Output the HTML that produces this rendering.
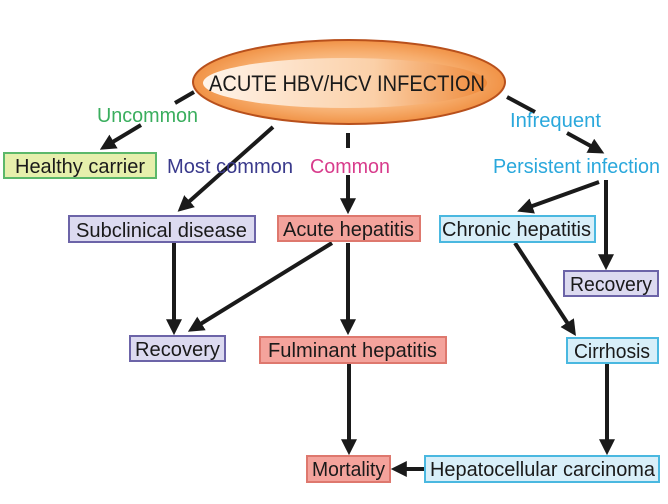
<!DOCTYPE html>
<html><head><meta charset="utf-8"><style>
html,body{margin:0;padding:0;background:#fff;width:668px;height:504px;overflow:hidden}
svg{display:block}
text{font-family:"Liberation Sans",sans-serif}
</style></head><body>
<svg width="668" height="504" viewBox="0 0 668 504" xmlns="http://www.w3.org/2000/svg">
<defs>
<marker id="a" markerWidth="4" markerHeight="4" refX="2.2" refY="2" orient="auto" markerUnits="strokeWidth">
<path d="M0,0 L4,2 L0,4 Z" fill="#1a1a1a"/></marker>
<radialGradient id="g" cx="0.5" cy="0.5" r="0.6">
<stop offset="0" stop-color="#fde2c8"/><stop offset="0.6" stop-color="#f7ae6e"/><stop offset="1" stop-color="#ec7f2a"/></radialGradient>
<linearGradient id="g2" x1="0" y1="0" x2="1" y2="0">
<stop offset="0" stop-color="#fff4ea"/><stop offset="0.6" stop-color="#fbd0a8"/><stop offset="1" stop-color="#ef8a3a"/></linearGradient>
</defs>
<ellipse cx="349" cy="82" rx="156" ry="42" fill="url(#g)" stroke="#b8501c" stroke-width="2"/>
<ellipse cx="345" cy="83" rx="142" ry="25" fill="url(#g2)"/>
<text x="209" y="91" font-size="22" textLength="276" lengthAdjust="spacingAndGlyphs" fill="#1a1a1a">ACUTE HBV/HCV INFECTION</text>
<g stroke="#1a1a1a" stroke-width="4" fill="none">
<line x1="194" y1="92" x2="175" y2="103"/>
<line x1="141" y1="125" x2="106" y2="146" marker-end="url(#a)"/>
<line x1="273" y1="127" x2="183" y2="207" marker-end="url(#a)"/>
<line x1="348" y1="133" x2="348" y2="148"/>
<line x1="348" y1="175" x2="348" y2="207" marker-end="url(#a)"/>
<line x1="507" y1="97" x2="535" y2="112"/>
<line x1="567" y1="133" x2="598" y2="150" marker-end="url(#a)"/>
<line x1="599" y1="182" x2="524" y2="209" marker-end="url(#a)"/>
<line x1="606" y1="180" x2="606" y2="263" marker-end="url(#a)"/>
<line x1="174" y1="243" x2="174" y2="328" marker-end="url(#a)"/>
<line x1="332" y1="243" x2="194" y2="328" marker-end="url(#a)"/>
<line x1="348" y1="243" x2="348" y2="328" marker-end="url(#a)"/>
<line x1="515" y1="243" x2="572" y2="330" marker-end="url(#a)"/>
<line x1="349" y1="364" x2="349" y2="448" marker-end="url(#a)"/>
<line x1="607" y1="364" x2="607" y2="448" marker-end="url(#a)"/>
<line x1="424" y1="469" x2="398" y2="469" marker-end="url(#a)"/>
</g>
<g font-size="20" lengthAdjust="spacingAndGlyphs">
<text x="97" y="122" textLength="101" lengthAdjust="spacingAndGlyphs" fill="#3aae5e">Uncommon</text>
<text x="167" y="173" textLength="126" lengthAdjust="spacingAndGlyphs" fill="#3a3a8c">Most common</text>
<text x="310" y="173" textLength="80" lengthAdjust="spacingAndGlyphs" fill="#d83c8c">Common</text>
<text x="510" y="127" textLength="91" lengthAdjust="spacingAndGlyphs" fill="#2aa8dc">Infrequent</text>
<text x="493" y="173" textLength="167" lengthAdjust="spacingAndGlyphs" fill="#2aa8dc">Persistent infection</text>
</g>
<g stroke-width="2" font-size="20">
<rect x="4" y="153" width="152" height="25" fill="#e6efac" stroke="#5cb86a"/>
<text x="15" y="173" textLength="130" lengthAdjust="spacingAndGlyphs" fill="#1a1a1a">Healthy carrier</text>
<rect x="69" y="216" width="186" height="26" fill="#dcdaf0" stroke="#6c64a8"/>
<text x="76" y="237" textLength="171" lengthAdjust="spacingAndGlyphs" fill="#1a1a1a">Subclinical disease</text>
<rect x="278" y="216" width="142" height="25" fill="#f4a39c" stroke="#de786e"/>
<text x="283" y="236" textLength="131" lengthAdjust="spacingAndGlyphs" fill="#1a1a1a">Acute hepatitis</text>
<rect x="440" y="216" width="155" height="26" fill="#d8eff9" stroke="#4ab8e0"/>
<text x="442" y="236" textLength="149" lengthAdjust="spacingAndGlyphs" fill="#1a1a1a">Chronic hepatitis</text>
<rect x="564" y="271" width="94" height="25" fill="#dcdaf0" stroke="#6c64a8"/>
<text x="570" y="291" textLength="82" lengthAdjust="spacingAndGlyphs" fill="#1a1a1a">Recovery</text>
<rect x="130" y="336" width="95" height="25" fill="#dcdaf0" stroke="#6c64a8"/>
<text x="135" y="356" textLength="85" lengthAdjust="spacingAndGlyphs" fill="#1a1a1a">Recovery</text>
<rect x="260" y="337" width="186" height="26" fill="#f4a39c" stroke="#de786e"/>
<text x="268" y="357" textLength="169" lengthAdjust="spacingAndGlyphs" fill="#1a1a1a">Fulminant hepatitis</text>
<rect x="567" y="338" width="91" height="25" fill="#d8eff9" stroke="#4ab8e0"/>
<text x="574" y="358" textLength="76" lengthAdjust="spacingAndGlyphs" fill="#1a1a1a">Cirrhosis</text>
<rect x="307" y="456" width="83" height="26" fill="#f4a39c" stroke="#de786e"/>
<text x="312" y="476" textLength="73" lengthAdjust="spacingAndGlyphs" fill="#1a1a1a">Mortality</text>
<rect x="425" y="456" width="234" height="26" fill="#d8eff9" stroke="#4ab8e0"/>
<text x="430" y="476" textLength="225" lengthAdjust="spacingAndGlyphs" fill="#1a1a1a">Hepatocellular carcinoma</text>
</g>
</svg>
</body></html>
